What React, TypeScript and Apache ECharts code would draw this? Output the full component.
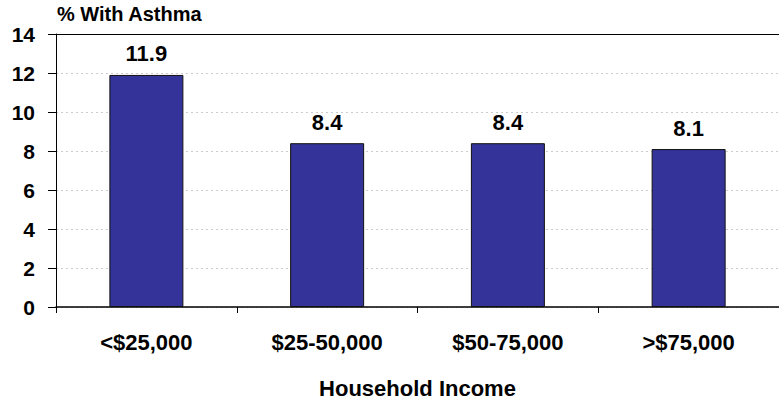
import React, { useEffect, useRef } from "react";
import * as echarts from "echarts";

const categories = ["<$25,000", "$25-50,000", "$50-75,000", ">$75,000"];
const values = [11.9, 8.4, 8.4, 8.1];
const yTicks = [0, 2, 4, 6, 8, 10, 12, 14];

export default function App() {
  const ref = useRef<HTMLDivElement>(null);
  useEffect(() => {
    const chart = echarts.init(ref.current!, null, { renderer: "svg" });
    const font = "Arial, 'Liberation Sans', sans-serif";
    chart.setOption({
      animation: false,
      textStyle: { fontFamily: font },
      grid: { left: 56, right: -10, top: 34, bottom: 92, containLabel: false },
      graphic: [
        {
          type: "text",
          left: 57,
          top: 4,
          style: { text: "% With Asthma", font: `bold 20px ${font}`, fill: "#000" },
        },
      ],
      xAxis: [
        {
          type: "category",
          data: categories,
          axisLine: { lineStyle: { color: "#000", width: 1.5 } },
          axisTick: { show: true, length: 6, lineStyle: { color: "#000" } },
          axisLabel: { color: "#000", fontWeight: "bold", fontSize: 22, margin: 24, fontFamily: font },
          name: "Household Income",
          nameLocation: "middle",
          nameGap: 70,
          nameTextStyle: { color: "#000", fontWeight: "bold", fontSize: 22, fontFamily: font },
        },
        {
          type: "category",
          position: "top",
          data: categories,
          axisLine: { show: true, lineStyle: { color: "#000", width: 1 } },
          axisTick: { show: false },
          axisLabel: { show: false },
        },
      ],
      yAxis: {
        type: "value",
        min: 0,
        max: 14,
        interval: 2,
        axisLine: { show: true, lineStyle: { color: "#000" } },
        axisTick: { show: true, length: 8, lineStyle: { color: "#000" } },
        axisLabel: {
          color: "#000",
          fontWeight: "bold",
          fontSize: 21,
          margin: 21,
          fontFamily: font,
          formatter: (v: number) => (yTicks.includes(v) ? String(v) : ""),
        },
        splitLine: { lineStyle: { color: "#cccccc", type: [2, 3] } },
      },
      series: [
        {
          type: "bar",
          data: values,
          barWidth: 74,
          itemStyle: { color: "#333399", borderColor: "#111", borderWidth: 1 },
          label: {
            show: true,
            position: "top",
            distance: 10,
            color: "#000",
            fontWeight: "bold",
            fontSize: 22,
            fontFamily: font,
            formatter: (p: any) => p.value.toFixed(1),
          },
        },
      ],
    });
    return () => chart.dispose();
  }, []);
  return <div ref={ref} style={{ width: 779, height: 404, position: "absolute", left: 0, top: 0 }} />;
}
